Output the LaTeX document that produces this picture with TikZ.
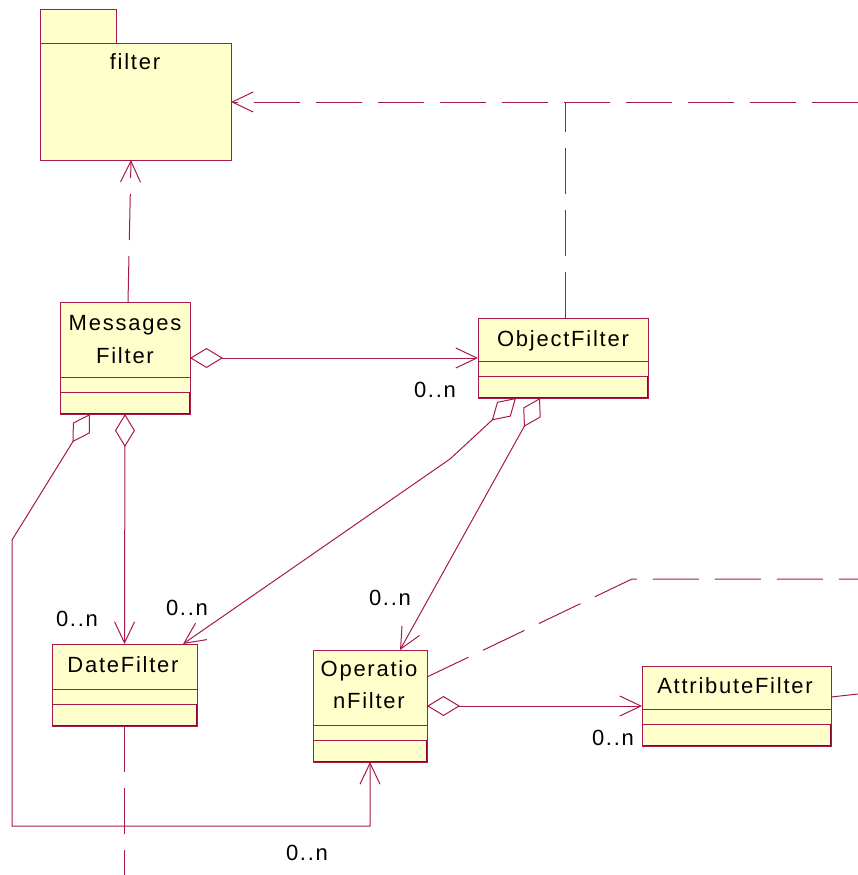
\documentclass[tikz,border=0pt]{standalone}
\usepackage{fontspec}
\setmainfont{Liberation Sans}[LetterSpace=8]
\usetikzlibrary{arrows.meta,calc}
\definecolor{umlline}{RGB}{165,25,75}
\definecolor{umledge}{RGB}{140,0,50}
\definecolor{umlfill}{RGB}{255,255,204}

\begin{document}
\begin{tikzpicture}[x=1pt,y=-1pt,
  every node/.style={font=\fontsize{22}{26}\selectfont, inner sep=0pt, outer sep=0pt},
  plainbox/.style={draw=umlline, fill=umlfill, line width=1pt, rectangle},
  classbox/.style={plainbox,
    path picture={
      \draw[umlline, line width=1pt]
        ($(path picture bounding box.south west)+(0,-37)$) -- ($(path picture bounding box.south east)+(0,-37)$)
        ($(path picture bounding box.south west)+(0,-22)$) -- ($(path picture bounding box.south east)+(0,-22)$);
      \draw[umledge, line width=2.4pt]
        (path picture bounding box.south west) -- (path picture bounding box.south east)
        -- ($(path picture bounding box.south east)+(0,-22)$);
    }},
  conn/.style={draw=umlline, line width=1pt},
  opentip/.style={-{Straight Barb[length=21pt,width=20pt,line width=1pt]}},
  deplin/.style={conn, dash pattern=on 46pt off 16pt},
  dep/.style={deplin, opentip},
  agg/.style={conn, {Diamond[open,length=33pt,width=20pt,line width=1pt]}-{Straight Barb[length=21pt,width=20pt,line width=1pt]}},
  mult/.style={anchor=base}
]
\useasboundingbox (0,0) rectangle (858,875);

% package "filter"
\node[plainbox, minimum width=76pt, minimum height=34pt] (pkgtab) at (78,27) {};
\node[plainbox, minimum width=191pt, minimum height=116pt] (pkg) at (135.5,102) {};
\node[anchor=base] (pkgname) at (135,70) {filter};

% classes
\node[classbox, minimum width=130pt, minimum height=112pt] (msg) at (125,358) {};
\node[anchor=base] (msgname1) at (125,330) {Messages};
\node[anchor=base] (msgname2) at (125,363) {Filter};

\node[classbox, minimum width=170pt, minimum height=80pt] (obj) at (563,358) {};
\node[anchor=base] (objname) at (563,346) {ObjectFilter};

\node[classbox, minimum width=145pt, minimum height=82pt] (date) at (124.5,685) {};
\node[anchor=base] (datename) at (123,672) {DateFilter};

\node[classbox, minimum width=114pt, minimum height=112pt] (oper) at (370,706) {};
\node[anchor=base] (opername1) at (369,676) {Operatio};
\node[anchor=base] (opername2) at (369,708) {nFilter};

\node[classbox, minimum width=189pt, minimum height=80pt] (attr) at (736.5,706) {};
\node[anchor=base] (attrname) at (735,693) {AttributeFilter};

% bends and loose ends
\coordinate (pkgin) at (858,102);
\coordinate (objup) at (565,102);
\coordinate (bendA) at (12,540);
\coordinate (bendB) at (12,826);
\coordinate (bendC) at (450,459);
\coordinate (bendD) at (632,579);
\coordinate (operout) at (858,579);
\coordinate (datedown) at (124.5,875);
\coordinate (attrout) at (858,694);

% dependencies on the package
\draw[dep] ($(msg.north)+(3,0)$) -- ($(pkg.south)+(-4.5,0)$);
\draw[dep] (pkgin) -- (pkg.east);
\draw[deplin] ($(obj.north)+(2,0)$) -- (objup);

% aggregations
\draw[agg] (msg.east) -- (obj.west);
\draw[agg] ($(msg.south west)+(30,0)$) -- (bendA) -- (bendB) -| (oper.south);
\draw[agg] (msg.south) -- (date.north);
\draw[agg] ($(obj.south west)+(38,0)$) -- (bendC) -- ($(date.north east)+(-14,0)$);
\draw[agg] ($(obj.south west)+(62,0)$) -- ($(oper.north)+(30,0)$);
\draw[agg] (oper.east) -- (attr.west);

% lines leaving the picture
\draw[deplin] ($(oper.north east)+(0,27)$) -- (bendD) -- (operout);
\draw[deplin] (date.south) -- (datedown);
\draw[conn] ($(attr.east)+(0,-9)$) -- (attrout);

% multiplicities
\node[mult] (m1) at (435,397) {0..n};
\node[mult] (m2) at (77,626) {0..n};
\node[mult] (m3) at (187,615) {0..n};
\node[mult] (m4) at (390,605) {0..n};
\node[mult] (m5) at (613,745) {0..n};
\node[mult] (m6) at (307,860) {0..n};
\end{tikzpicture}
\end{document}
